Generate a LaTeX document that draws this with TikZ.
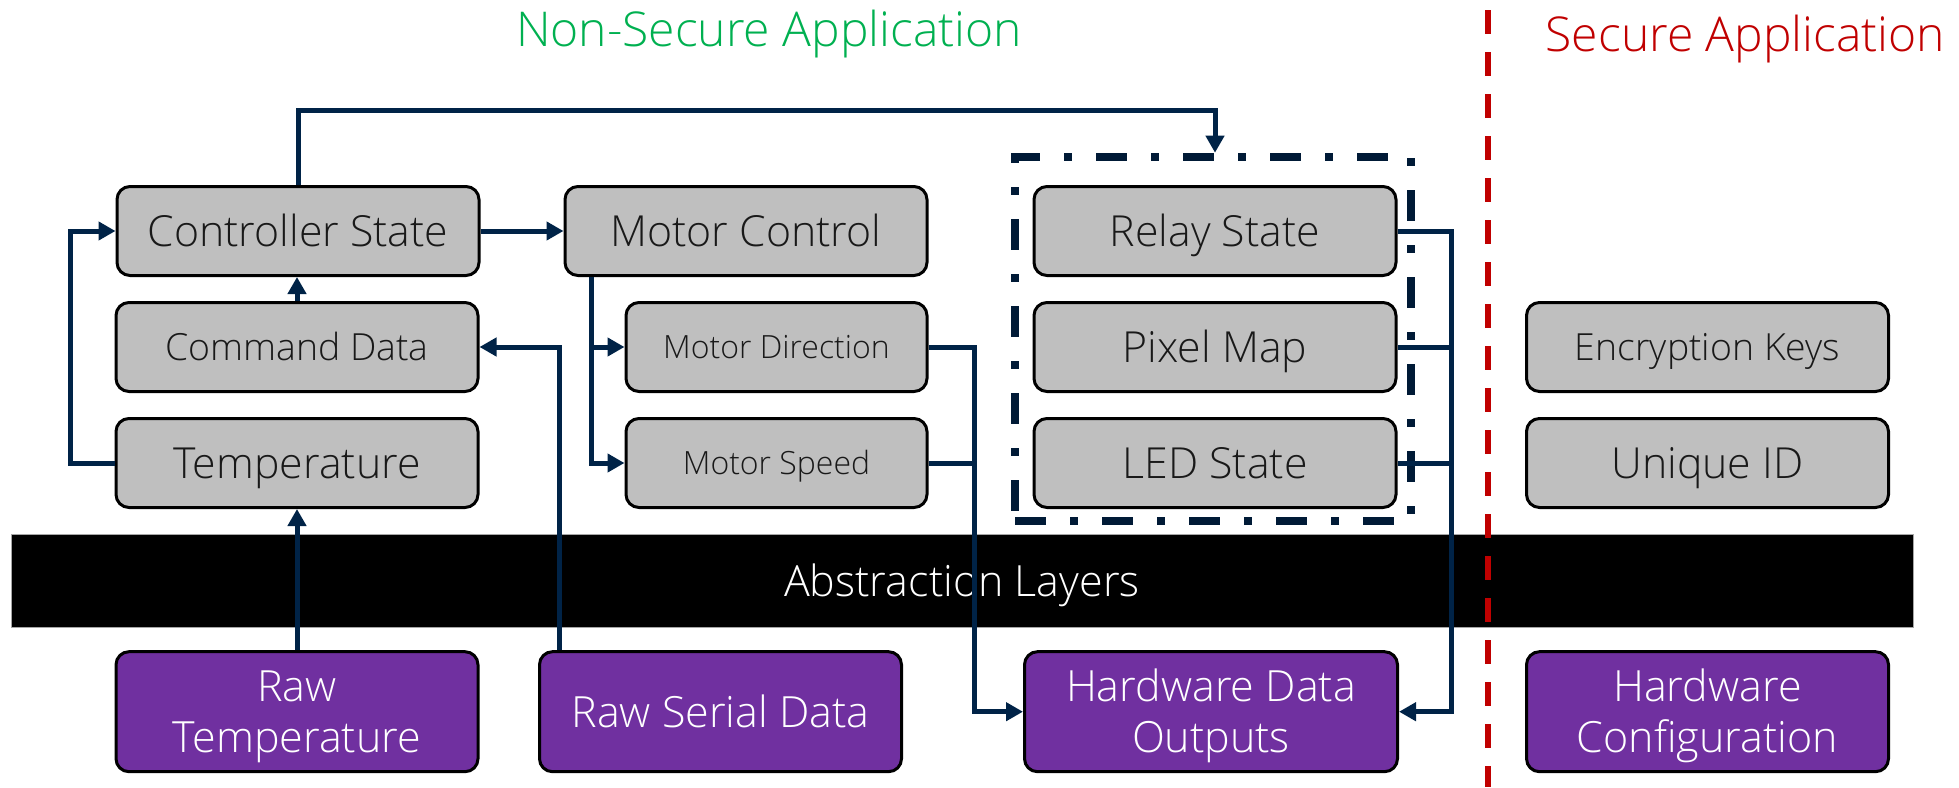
\documentclass[tikz,border=0pt]{standalone}
\usepackage{fontspec}
\setmainfont{Open Sans Light}
\usetikzlibrary{arrows.meta}
\definecolor{navy}{HTML}{002347}
\definecolor{navydark}{HTML}{001A36}
\definecolor{boxgrey}{HTML}{BFBFBF}
\definecolor{rawpurple}{HTML}{7030A0}
\definecolor{nsgreen}{HTML}{00B050}
\definecolor{sred}{HTML}{C00000}
\begin{document}
\begin{tikzpicture}[x=1pt,y=-1pt,
  dbox/.style={draw=black, line width=3pt, rounded corners=13pt, fill=boxgrey,
    minimum width=362pt, minimum height=89pt, inner sep=0pt, text=black!90,
    font=\fontsize{42.8}{51}\selectfont, text height=30.6pt, text depth=0pt},
  smalltext/.style={font=\fontsize{37.4}{45}\selectfont, text height=26.7pt},
  sbox/.style={dbox, minimum width=301pt, font=\fontsize{32}{38}\selectfont, text height=22.8pt},
  rbox/.style={dbox, fill=rawpurple, text=white, minimum height=120pt, align=center,
    font=\fontsize{43}{51.3}\selectfont, text height=82pt},
  oneline/.style={text height=30.7pt},
  band/.style={fill=black, draw=gray!70, line width=1pt, minimum width=1902pt,
    minimum height=93pt, inner sep=0pt, text=white, font=\fontsize{43}{51}\selectfont,
    text height=30.7pt, text depth=0pt},
  group/.style={draw=navydark, line width=8pt, dash pattern=on 31pt off 24pt on 8pt off 24pt,
    minimum width=395.7pt, minimum height=364.3pt, inner sep=0pt},
  title/.style={anchor=base, inner sep=0pt, font=\fontsize{48}{58}\selectfont},
  conn/.style={draw=navy, line width=5pt, -{Triangle[length=17pt,width=18pt]}},
  link/.style={draw=navy, line width=5pt},
]
\useasboundingbox (0,0) rectangle (1959,787);

% headings
\node[title, text=nsgreen] (nstitle) at (769,46.7) {Non-Secure Application};
\node[title, text=sred] (stitle) at (1745.5,51.7) {Secure Application};

% abstraction band
\node[band] (layers) at (962,581) {Abstraction Layers};

% application data blocks
\node[dbox] (ctrl)  at (298,231)    {Controller State};
\node[dbox] (mctl)  at (746,231)    {Motor Control};
\node[dbox] (relay) at (1215,231)   {Relay State};
\node[dbox, smalltext] (cmd) at (297,347) {Command Data};
\node[sbox] (mdir)  at (776.5,347)  {Motor Direction};
\node[dbox] (pix)   at (1215,347)   {Pixel Map};
\node[dbox, smalltext] (keys) at (1707.5,347) {Encryption Keys};
\node[dbox] (temp)  at (297,463)    {Temperature};
\node[sbox] (mspd)  at (776.5,463)  {Motor Speed};
\node[dbox] (led)   at (1215,463)   {LED State};
\node[dbox] (uid)   at (1707.5,463) {Unique ID};

% hardware blocks
\node[rbox] (rawt)  at (297,711.7)    {Raw\\Temperature};
\node[rbox, oneline] (raws)  at (720.5,711.7)  {Raw Serial Data};
\node[rbox, minimum width=373pt] (hwout) at (1211,711.7) {Hardware Data\\Outputs};
\node[rbox] (hwcfg) at (1707.5,711.7) {Hardware\\Configuration};

% output group
\node[group] (grp) at (1212.85,338.85) {};

% routing rails
\coordinate (topy) at (0,110);
\coordinate (lx) at (70,0);
\coordinate (sx) at (559,0);
\coordinate (mx) at (591.7,0);
\coordinate (jx) at (974.5,0);
\coordinate (bx) at (1451,0);

% connectors
\draw[conn] (ctrl.north) |- (topy -| relay) -- (grp.north -| relay);
\draw[conn] (ctrl.east) -- (mctl.west);
\draw[conn] (cmd.north) -- (cmd.north |- ctrl.south);
\draw[conn] (temp.west) -- (temp.west -| lx) |- (ctrl.west);
\draw[conn] (rawt.north) -- (temp.south);
\draw[conn] (raws.north -| sx) |- (cmd.east);
\draw[conn] (mctl.south -| mx) |- (mdir.west);
\draw[conn] (mctl.south -| mx) |- (mspd.west);
\draw[conn] (mdir.east) -| (jx |- hwout) -- (hwout.west);
\draw[link] (mspd.east) -- (mspd.east -| jx);
\draw[conn] (relay.east) -| (bx |- hwout) -- (hwout.east);
\draw[link] (pix.east) -- (pix.east -| bx);
\draw[link] (led.east) -- (led.east -| bx);

% secure boundary
\draw[sred, line width=6pt, dash pattern=on 24pt off 18pt] (1487.7,10) -- (1487.7,787);
\end{tikzpicture}
\end{document}
